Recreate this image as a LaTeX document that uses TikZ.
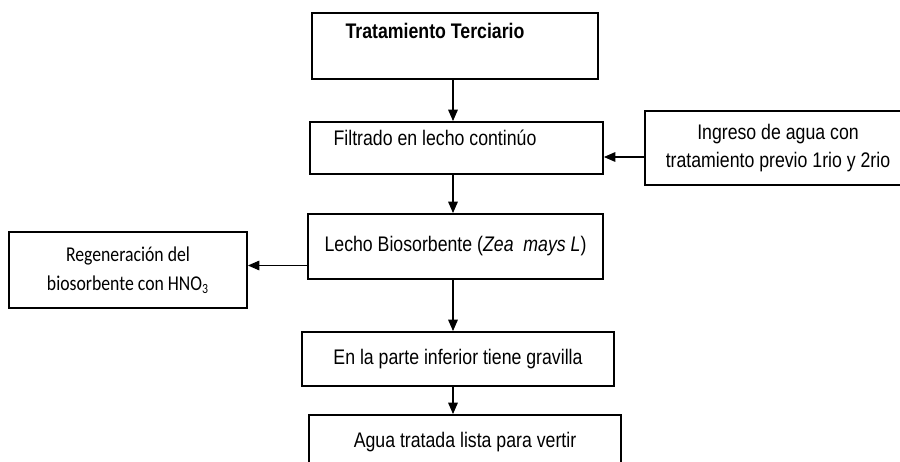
\documentclass[tikz,border=0pt]{standalone}
\usepackage{fontspec}
\setmainfont{Liberation Sans}[FakeStretch=0.84]
\newfontfamily\calib{Carlito}[FakeStretch=0.84]
\usetikzlibrary{arrows.meta}

\begin{document}
\begin{tikzpicture}[x=0.02cm, y=-0.02cm,
    box/.style={draw=black, line width=1.1pt, inner sep=0pt, font=\fontsize{12}{16}\selectfont},
    arr/.style={-{Triangle[length=6.5pt, width=5.5pt]}, line width=0.6pt}
]
    \clip (0,0) rectangle (900,462);
    \fill[white] (0,0) rectangle (900,462);

    \node[box, minimum width=5.72cm, minimum height=1.32cm,
          text height=0.3cm, text depth=0.6cm] (tt) at (455,46) {\textbf{Tratamiento Terciario}\hspace*{0.8cm}};
    \node[box, minimum width=5.86cm, minimum height=1.04cm,
          text height=0.3cm, text depth=0.4cm] (fl) at (456.5,148) {Filtrado en lecho continúo\hspace*{0.86cm}};
    \node[box, minimum width=5.32cm, minimum height=1.48cm, align=center] (ing) at (778,148)
          {Ingreso de agua con\\tratamiento previo 1rio y 2rio};
    \node[box, minimum width=5.9cm, minimum height=1.3cm] (lb) at (455.5,246.5)
          {Lecho Biosorbente (\textit{Zea\ \ mays L})};
    \node[box, font=\calib\fontsize{12}{16.5}\selectfont, minimum width=4.76cm, minimum height=1.52cm,
          align=center] (rg) at (128,270) {Regeneración del\\biosorbente con HNO\textsubscript{3}};
    \node[box, minimum width=6.24cm, minimum height=1.08cm] (gr) at (458,359)
          {En la parte inferior tiene gravilla};
    \node[box, minimum width=6.24cm, minimum height=1.08cm] (ag) at (465,442)
          {Agua tratada lista para vertir};

    \coordinate (ax) at (453,0);
    \coordinate (iy) at (0,157);
    \coordinate (ry) at (0,265.5);

    \draw[arr] (tt.south -| ax) -- (fl.north -| ax);
    \draw[arr] (fl.south -| ax) -- (lb.north -| ax);
    \draw[arr] (lb.south -| ax) -- (gr.north -| ax);
    \draw[arr] (gr.south -| ax) -- (ag.north -| ax);
    \draw[arr] (ing.west |- iy) -- (fl.east |- iy);
    \draw[arr] (lb.west |- ry) -- (rg.east |- ry);
\end{tikzpicture}
\end{document}
